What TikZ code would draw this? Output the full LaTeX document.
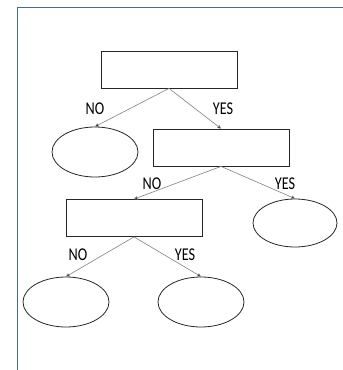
\documentclass[tikz,border=0pt]{standalone}
\usepackage{fontspec}
\setmainfont{Carlito}
\usetikzlibrary{shapes.geometric,arrows.meta}
\newcommand{\tallt}[1]{\scalebox{0.95}[1.2]{#1}}
\begin{document}
\begin{tikzpicture}[x=1pt,y=-1pt,
  boxnode/.style={draw=black!85,line width=0.8pt,minimum width=136pt,minimum height=37pt,inner sep=0pt},
  leafnode/.style={draw=black!85,ellipse,line width=0.8pt,minimum width=86pt,minimum height=50pt,inner sep=0pt},
  edge/.style={draw=black!50,line width=0.6pt,-{Triangle[length=3.5pt,width=3.5pt,fill=black]}},
  lbl/.style={font=\fontsize{15}{17}\selectfont,inner sep=0pt}]
\useasboundingbox (0,0) rectangle (343,370);
\draw[color={rgb,255:red,68;green,104;blue,160},line width=1.6pt] (17.5,371) -- (17.5,7.5) -- (344,7.5);
\node[boxnode] (b1) at (169,69.5) {};
\node[leafnode] (e1) at (95,152) {};
\node[boxnode] (b2) at (221,147.5) {};
\node[boxnode] (b3) at (134,218) {};
\node[leafnode,minimum width=84pt,minimum height=48pt] (e2) at (295,223) {};
\node[leafnode] (e3) at (66,302) {};
\node[leafnode] (e4) at (201,302) {};
\draw[edge] (b1.south) -- (e1.north);
\draw[edge] (b1.south) -- (b2.north);
\draw[edge] (b2.south) -- (b3.north);
\draw[edge] (b2.south) -- (e2.north);
\draw[edge] (b3.south) -- (e3.north);
\draw[edge] (b3.south) -- (e4.north);
\node[lbl] (l1) at (95,109) {\tallt{NO}};
\node[lbl] (l2) at (223,109) {\tallt{YES}};
\node[lbl] (l3) at (152,184) {\tallt{NO}};
\node[lbl] (l4) at (285,184) {\tallt{YES}};
\node[lbl] (l5) at (78,255) {\tallt{NO}};
\node[lbl] (l6) at (185,255) {\tallt{YES}};
\end{tikzpicture}
\end{document}
